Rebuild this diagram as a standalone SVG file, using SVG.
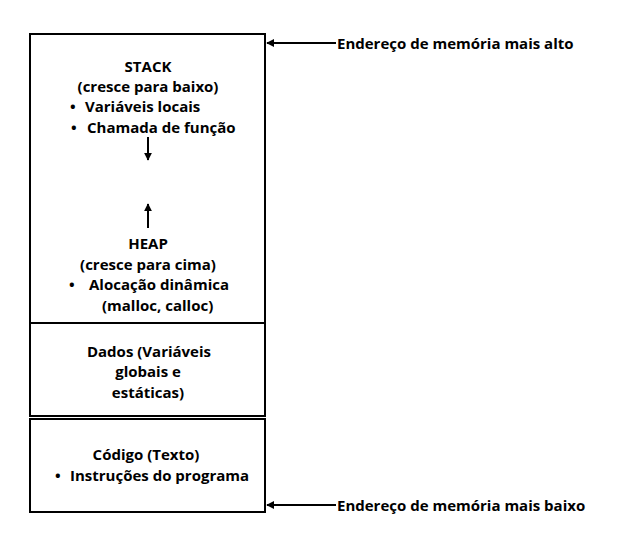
<svg xmlns="http://www.w3.org/2000/svg" width="619" height="555" viewBox="0 0 619 555">
<defs>
<style>
text{font-family:"Open Sans","DejaVu Sans",sans-serif;font-weight:bold;font-size:15px;fill:#000}
.c{text-anchor:middle}
.box{fill:#fff;stroke:#000;stroke-width:2}
.ln{stroke:#000;stroke-width:2;fill:none}
</style>
<marker id="ah" viewBox="0 0 10 10" refX="9" refY="5" markerWidth="4" markerHeight="4" orient="auto-start-reverse"><path d="M0,0 L10,5 L0,10 z" fill="#000"/></marker>
</defs>
<rect width="619" height="555" fill="#fff"/>
<g id="stack-heap">
<rect class="box" x="30" y="34" width="235" height="289"/>
<text class="c" x="148" y="72">STACK</text>
<text class="c" x="148" y="92">(cresce para baixo)</text>
<text x="70" y="112">•</text><text x="85" y="112">Variáveis locais</text>
<text x="71" y="133">•</text><text x="87" y="133">Chamada de função</text>
<text class="c" x="148" y="249">HEAP</text>
<text class="c" x="148" y="270">(cresce para cima)</text>
<text x="69" y="290">•</text><text x="89" y="290">Alocação dinâmica</text>
<text x="102" y="311">(malloc, calloc)</text>
</g>
<g id="dados">
<rect class="box" x="30" y="323" width="235" height="93"/>
<text class="c" x="149" y="357">Dados (Variáveis</text>
<text class="c" x="148" y="377">globais e</text>
<text class="c" x="148" y="398">estáticas)</text>
</g>
<g id="codigo">
<rect class="box" x="30" y="419" width="235" height="93"/>
<text class="c" x="146" y="460">Código (Texto)</text>
<text x="55" y="481">•</text><text x="70" y="481">Instruções do programa</text>
</g>
<g id="label-alto"><text x="337" y="49">Endereço de memória mais alto</text></g>
<g id="label-baixo"><text x="337" y="511">Endereço de memória mais baixo</text></g>
<g id="connectors">
<line class="ln" x1="148" y1="137" x2="148" y2="160" marker-end="url(#ah)"/>
<line class="ln" x1="148" y1="228" x2="148" y2="204" marker-end="url(#ah)"/>
<line class="ln" x1="336" y1="43" x2="267" y2="43" marker-end="url(#ah)"/>
<line class="ln" x1="336" y1="505" x2="267" y2="505" marker-end="url(#ah)"/>
</g>
</svg>
